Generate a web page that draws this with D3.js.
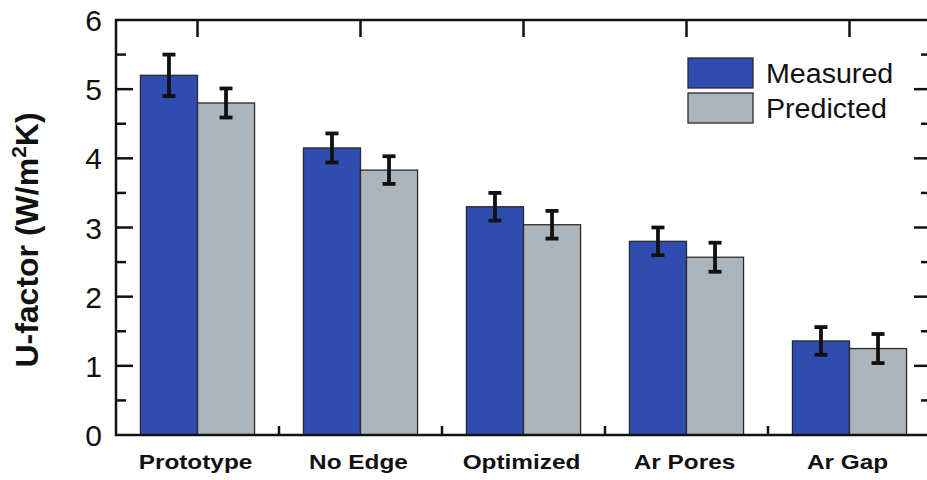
<!DOCTYPE html>
<html>
<head>
<meta charset="utf-8">
<script src="https://cdn.jsdelivr.net/npm/d3@7"></script>
<style>
  html, body { margin: 0; padding: 0; background: #fff; }
  svg { display: block; }
  text { font-family: "Liberation Sans", Arial, sans-serif; fill: #111; }
</style>
</head>
<body>
<svg id="chart" width="927" height="480"></svg>
<script>
// U-factor per glazing configuration, measured vs. predicted
const categories = ["Prototype", "No Edge", "Optimized", "Ar Pores", "Ar Gap"];
const seriesNames = ["Measured", "Predicted"];
const measured = [5.2, 4.15, 3.3, 2.8, 1.36];
const measuredErr = [0.3, 0.21, 0.2, 0.2, 0.2];
const predicted = [4.8, 3.83, 3.04, 2.57, 1.25];
const predictedErr = [0.21, 0.2, 0.2, 0.21, 0.21];
const yTicks = [0, 1, 2, 3, 4, 5, 6];
const yTitle = "U-factor (W/m";

const colors = { Measured: "#2f4cb1", Predicted: "#acb5bc" };

const svg = d3.select("#chart");
const plotL = 116, plotR = 931, plotT = 20, plotB = 435;

const x0 = d3.scaleBand().domain(categories).range([plotL, plotR])
  .paddingInner(0.3).paddingOuter(0.15);
const x1 = d3.scaleBand().domain(seriesNames).range([0, x0.bandwidth()]);
const y = d3.scaleLinear().domain([0, 6]).range([plotB, plotT]);

const rows = categories.map((c, i) => ({
  cat: c,
  vals: [
    { s: "Measured", v: measured[i], e: measuredErr[i] },
    { s: "Predicted", v: predicted[i], e: predictedErr[i] }
  ]
}));

// bars
const g = svg.append("g");
const groups = g.selectAll("g.grp").data(rows).join("g")
  .attr("transform", d => `translate(${x0(d.cat)},0)`);
groups.selectAll("rect").data(d => d.vals).join("rect")
  .attr("x", d => x1(d.s))
  .attr("y", d => y(d.v))
  .attr("width", x1.bandwidth())
  .attr("height", d => y(0) - y(d.v))
  .attr("fill", d => colors[d.s])
  .attr("stroke", "#2a2a2a")
  .attr("stroke-width", 1.3);

// error bars
const eb = groups.selectAll("g.err").data(d => d.vals).join("g")
  .attr("stroke", "#111").attr("stroke-width", 3.8).attr("fill", "none");
eb.append("line")
  .attr("x1", d => x1(d.s) + x1.bandwidth() / 2)
  .attr("x2", d => x1(d.s) + x1.bandwidth() / 2)
  .attr("y1", d => y(d.v + d.e)).attr("y2", d => y(d.v - d.e));
[1, -1].forEach(sign => {
  eb.append("line")
    .attr("x1", d => x1(d.s) + x1.bandwidth() / 2 - 6.5)
    .attr("x2", d => x1(d.s) + x1.bandwidth() / 2 + 6.5)
    .attr("y1", d => y(d.v + sign * d.e)).attr("y2", d => y(d.v + sign * d.e));
});

// frame and ticks
const frame = svg.append("g").attr("stroke", "#111").attr("stroke-width", 2.5).attr("fill", "none");
frame.append("path").attr("d", `M${plotL},${plotT}H${plotR}V${plotB}H${plotL}Z`);

const minor = d3.range(0.5, 6, 1);
frame.selectAll("line.ymaj").data(yTicks.slice(1, -1)).join("line")
  .attr("x1", plotL).attr("x2", plotL + 17).attr("y1", d => y(d)).attr("y2", d => y(d));
frame.selectAll("line.ymin").data(minor).join("line")
  .attr("x1", plotL).attr("x2", plotL + 10).attr("y1", d => y(d)).attr("y2", d => y(d));
frame.selectAll("line.rmaj").data(yTicks.slice(1, -1)).join("line")
  .attr("x1", plotR).attr("x2", plotR - 17).attr("y1", d => y(d)).attr("y2", d => y(d));
frame.selectAll("line.rmin").data(minor).join("line")
  .attr("x1", plotR).attr("x2", plotR - 10).attr("y1", d => y(d)).attr("y2", d => y(d));

// top ticks at group centres, bottom ticks between groups
frame.selectAll("line.tt").data(categories).join("line")
  .attr("x1", d => x0(d) + x0.bandwidth() / 2).attr("x2", d => x0(d) + x0.bandwidth() / 2)
  .attr("y1", plotT).attr("y2", plotT + 17);
frame.selectAll("line.bt").data(categories.slice(1)).join("line")
  .attr("x1", d => x0(d) - x0.step() * x0.paddingInner() / 2)
  .attr("x2", d => x0(d) - x0.step() * x0.paddingInner() / 2)
  .attr("y1", plotB).attr("y2", plotB - 9);

// y tick labels
svg.append("g").selectAll("text").data(yTicks).join("text")
  .attr("x", 102).attr("y", d => y(d) + 11)
  .attr("text-anchor", "end")
  .style("font-size", "30px")
  .text(d => d);

// category labels
svg.append("g").selectAll("text").data(categories).join("text")
  .attr("x", d => x0(d) + x0.bandwidth() / 2 - 2)
  .attr("y", 469)
  .attr("text-anchor", "middle")
  .style("font-size", "21px").style("font-weight", "bold")
  .attr("transform", d => {
    const cx = x0(d) + x0.bandwidth() / 2 - 2;
    return `translate(${cx},0) scale(1.16,1) translate(${-cx},0)`;
  })
  .text(d => d);

// y axis title
const yt = svg.append("text")
  .attr("transform", `translate(38,240) rotate(-90)`)
  .attr("text-anchor", "middle")
  .style("font-size", "32px").style("font-weight", "bold");
yt.append("tspan").text(yTitle);
yt.append("tspan").attr("dy", -12).style("font-size", "21px").text("2");
yt.append("tspan").attr("dy", 12).text("K)");

// legend
const lg = svg.append("g").attr("transform", "translate(688,58)");
seriesNames.forEach((s, i) => {
  lg.append("rect").attr("x", 0).attr("y", i * 35).attr("width", 65).attr("height", 30)
    .attr("fill", colors[s]).attr("stroke", "#2a2a2a").attr("stroke-width", 1.3);
  lg.append("text").attr("x", 78).attr("y", i * 35 + 25)
    .style("font-size", "27px")
    .attr("transform", `translate(78,0) scale(1.06,1) translate(-78,0)`)
    .text(s);
});
</script>
</body>
</html>
